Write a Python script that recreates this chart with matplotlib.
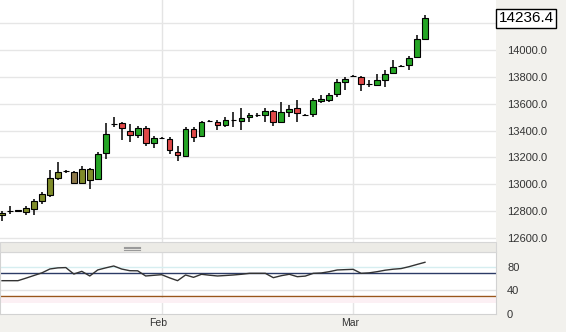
import matplotlib
matplotlib.use("Agg")
import matplotlib.pyplot as plt
import matplotlib.transforms as mtransforms
from matplotlib.patches import Rectangle
from matplotlib.lines import Line2D

plt.rcParams['font.family'] = ['Liberation Sans', 'DejaVu Sans']

# daily OHLC, one row per trading session
opens = [12771, 12800, 12801, 12794, 12816, 12876, 12920, 13047, 13097, 13091,
         13010, 13032, 13039, 13233, 13447, 13456, 13397, 13367, 13419, 13307,
         13344, 13337, 13240, 13211, 13412, 13360, 13470, 13464, 13442, 13478,
         13471, 13501, 13515, 13516, 13546, 13464, 13538, 13568, 13515, 13523,
         13620, 13628, 13672, 13762, 13805, 13799, 13746, 13739, 13777, 13829,
         13880, 13888, 13948, 14082]
highs = [12801, 12838, 12809, 12838, 12890, 12943, 13106, 13166, 13106, 13099,
         13136, 13121, 13240, 13456, 13501, 13464, 13449, 13434, 13434, 13360,
         13352, 13352, 13285, 13427, 13427, 13471, 13479, 13479, 13501, 13538,
         13568, 13531, 13531, 13568, 13553, 13613, 13590, 13628, 13523, 13643,
         13665, 13680, 13784, 13799, 13814, 13806, 13777, 13821, 13851, 13926,
         13888, 13955, 14112, 14261]
lows = [12727, 12779, 12794, 12771, 12771, 12853, 12905, 13032, 13084, 13002,
        13002, 12965, 13032, 13188, 13427, 13330, 13315, 13345, 13285, 13270,
        13337, 13226, 13173, 13203, 13315, 13352, 13464, 13404, 13427, 13427,
        13404, 13464, 13501, 13464, 13434, 13456, 13501, 13464, 13509, 13501,
        13605, 13613, 13650, 13702, 13799, 13695, 13724, 13732, 13724, 13821,
        13873, 13851, 13940, 14075]
closes = [12786, 12803, 12803, 12823, 12876, 12928, 13047, 13091, 13100, 13010,
          13114, 13114, 13226, 13374, 13450, 13419, 13367, 13419, 13307, 13345,
          13346, 13255, 13218, 13412, 13352, 13464, 13472, 13442, 13479, 13480,
          13494, 13516, 13517, 13546, 13464, 13538, 13561, 13531, 13517, 13628,
          13635, 13665, 13762, 13784, 13807, 13747, 13748, 13777, 13821, 13873,
          13882, 13940, 14082, 14236.4]
rsi = [56.7, 56.7, 56.7, 61, 65.5, 70, 76.6, 78.5, 79, 68,
       72.6, 64.7, 75, 78.5, 81.7, 76.5, 73.7, 73.5, 64.7, 65.8,
       66.9, 61.5, 56.7, 66.4, 62.4, 67.6, 66, 64.7, 65.5, 66.4,
       67.6, 69.2, 69.2, 69.2, 61.8, 65.2, 67.6, 63.5, 64.5, 69.2,
       69.8, 72, 74.9, 75.5, 76, 69.2, 70, 72, 74.5, 76.2,
       77.3, 80.5, 84.3, 88]
month_pos = [20, 44]
month_labels = ['Feb', 'Mar']
price_ticks = [12600, 12800, 13000, 13200, 13400, 13600, 13800, 14000]
price_grid = price_ticks + [14200]
rsi_ticks = [0, 40, 80]
n_faded = 12  # older sessions drawn in muted tones

BG = '#f2f1ed'
fig = plt.figure(figsize=(5.66, 3.32), dpi=100, facecolor=BG)
W, H = 566, 332
ax = fig.add_axes([0, 90 / H, 496 / W, 242 / H])
ax_rsi = fig.add_axes([0, 18 / H, 496 / W, 62 / H], sharex=ax)

for a in (ax, ax_rsi):
    a.set_facecolor('white')
    a.yaxis.tick_right()
    a.tick_params(axis='y', length=0, pad=8, labelsize=8, labelcolor='#333333')
    a.tick_params(axis='x', length=0)
    for m in month_pos:
        a.axvline(m, color='#e4e4e4', lw=1, zorder=0)

# price panel
for p in price_grid:
    ax.axhline(p, color='#e6e6e6', lw=1, zorder=0)
for i, (o, h, l, c) in enumerate(zip(opens, highs, lows, closes)):
    up = c >= o
    if i < n_faded:
        col = '#7f8c2a' if up else '#8c7848'
    else:
        col = '#25a525' if up else '#e04848'
    ax.vlines(i, l, h, color='black', lw=1.1, zorder=2)
    body = max(abs(c - o), 4)
    ax.bar(i, body, bottom=min(o, c), width=0.72, color=col,
           edgecolor='black', linewidth=0.8, zorder=3)
ax.set_ylim(12570, 14372)
ax.set_xlim(-0.25, 61.9)
ax.set_yticks(price_ticks)
ax.set_yticklabels(['%.1f' % p for p in price_ticks])
for s in ax.spines.values():
    s.set_visible(False)
ax.tick_params(axis='x', labelbottom=False)

# last price tag
ax.annotate('%.1f' % closes[-1], xy=(1, closes[-1]),
            xycoords=('axes fraction', 'data'), xytext=(2, 0),
            textcoords='offset points', ha='left', va='center',
            fontsize=11, color='black',
            bbox=dict(boxstyle='square,pad=0.15', fc='white', ec='black', lw=1))

# RSI panel
ax_rsi.axhspan(19, 27, color='#fcf0f4', lw=0, zorder=0)
ax_rsi.axhline(40, color='#e4e4e4', lw=1, zorder=0)
ax_rsi.axhline(80, color='#d6eef0', lw=1, zorder=0)
ax_rsi.axhline(70, color='#2c3b66', lw=1, zorder=1)
ax_rsi.axhline(30, color='#9a561c', lw=1, zorder=1)
ax_rsi.plot(range(len(rsi)), rsi, color='#333333', lw=1, zorder=2)
ax_rsi.set_ylim(0, 105.5)
ax_rsi.set_yticks(rsi_ticks)
ax_rsi.set_xticks(month_pos)
ax_rsi.set_xticklabels(month_labels, fontsize=7.5, color='#333333')
ax_rsi.tick_params(axis='x', pad=3)
shift = mtransforms.ScaledTranslation(-3 / 100, 0, fig.dpi_scale_trans)
for lab in ax_rsi.get_xticklabels():
    lab.set_transform(lab.get_transform() + shift)
for s in ax_rsi.spines.values():
    s.set_color('#d2d2d2')
    s.set_linewidth(0.8)

# splitter bar between the panels
fig.patches.append(Rectangle((0, 80 / H), 496 / W, 10 / H, transform=fig.transFigure,
                             facecolor='#ecebe6', edgecolor='#d6d6d6', lw=0.8))
for yy in (246.5, 248.3, 250.1):
    fig.lines.append(Line2D([124 / W, 140 / W], [1 - yy / H, 1 - yy / H],
                            transform=fig.transFigure, color='#9a9a9a', lw=0.8))

fig.savefig('out.png', dpi=100, facecolor=BG)
